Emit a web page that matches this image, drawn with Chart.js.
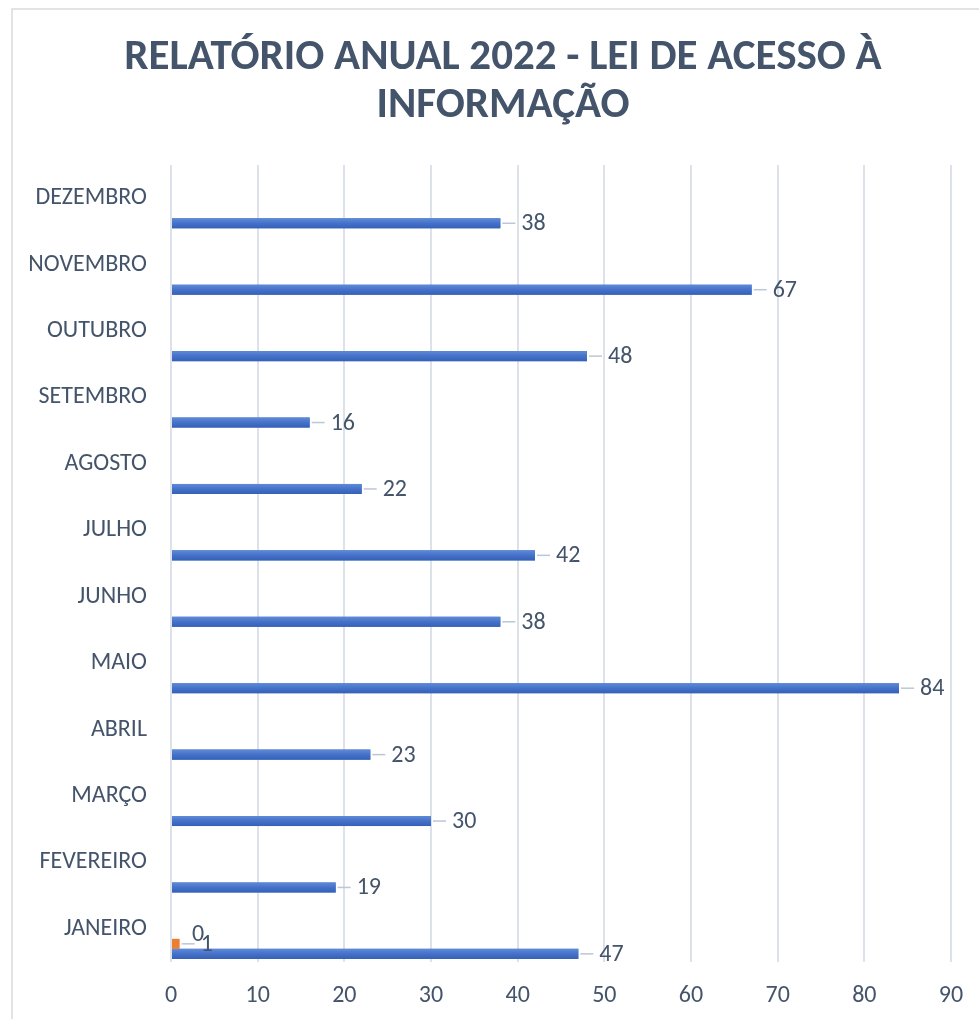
<!DOCTYPE html>
<html>
<head>
<meta charset="utf-8">
<script src="https://cdn.jsdelivr.net/npm/chart.js@4/dist/chart.umd.min.js"></script>
<style>
    html, body { margin: 0; padding: 0; background: #fff; overflow: hidden; }
    #wrap { position: relative; width: 979px; height: 1019px; }
    #frame { position: absolute; left: 11px; top: 8px; width: 1000px; height: 1050px; border: 2px solid #e3e3e3; box-sizing: border-box; }
    canvas { position: absolute; left: 0; top: 0; }
</style>
</head>
<body>
<div id="wrap">
    <div id="frame"></div>
    <canvas id="lai2022" width="979" height="1019"></canvas>
</div>
<script>
// meses (de janeiro a dezembro)
const meses = ['JANEIRO', 'FEVEREIRO', 'MARÇO', 'ABRIL', 'MAIO', 'JUNHO',
               'JULHO', 'AGOSTO', 'SETEMBRO', 'OUTUBRO', 'NOVEMBRO', 'DEZEMBRO'];
// série principal (barras azuis)
const serie1 = [47, 19, 30, 23, 84, 38, 42, 22, 16, 48, 67, 38];
// séries secundárias: só janeiro tem valor
const serie2 = [1, null, null, null, null, null, null, null, null, null, null, null];
const serie3 = [0, null, null, null, null, null, null, null, null, null, null, null];
const serie4 = [null, null, null, null, null, null, null, null, null, null, null, null];
const serie5 = [null, null, null, null, null, null, null, null, null, null, null, null];
const serie6 = [null, null, null, null, null, null, null, null, null, null, null, null];
const eixoX = [0, 10, 20, 30, 40, 50, 60, 70, 80, 90];
const titulo = ['RELATÓRIO ANUAL 2022 - LEI DE ACESSO À', 'INFORMAÇÃO'];

const corTexto = '#44546a';
const fonte = "Carlito, 'Open Sans', sans-serif";

// Excel desenha janeiro embaixo e a série 1 na base de cada faixa
const rev = arr => arr.slice().reverse();

// título centrado no quadro do gráfico (não no canvas)
const tituloPlugin = {
    id: 'tituloPlugin',
    afterDraw(chart) {
        const ctx = chart.ctx;
        ctx.save();
        ctx.font = "bold 43px " + fonte;
        ctx.fillStyle = corTexto;
        ctx.textAlign = 'center';
        ctx.textBaseline = 'middle';
        titulo.forEach((linha, i) => ctx.fillText(linha, 503, 58 + i * 48));
        ctx.restore();
    }
};

// degradê das barras azuis, como no Excel
const degrade = {
    id: 'degrade',
    afterDatasetsDraw(chart) {
        const ctx = chart.ctx;
        chart.data.datasets.forEach((ds, i) => {
            if (ds.label !== 'Série 1') return;
            chart.getDatasetMeta(i).data.forEach(bar => {
                const p = bar.getProps(['x', 'y', 'base', 'height'], true);
                const top = p.y - p.height / 2;
                const g = ctx.createLinearGradient(0, top, 0, top + p.height);
                g.addColorStop(0, '#5f8ad8');
                g.addColorStop(0.5, '#4572c8');
                g.addColorStop(1, '#3560b8');
                ctx.fillStyle = g;
                ctx.fillRect(p.base, top, p.x - p.base, p.height);
            });
        });
    }
};

// rótulos de dados (sem plugin externo)
const rotulos = {
    id: 'rotulos',
    afterDatasetsDraw(chart) {
        const ctx = chart.ctx;
        ctx.save();
        ctx.font = "24px " + fonte;
        ctx.fillStyle = corTexto;
        ctx.textBaseline = 'middle';
        ctx.textAlign = 'left';
        chart.data.datasets.forEach((ds, i) => {
            const meta = chart.getDatasetMeta(i);
            meta.data.forEach((bar, j) => {
                const v = ds.data[j];
                if (v === null || v === undefined) return;
                const x = bar.x + 21;
                ctx.strokeStyle = '#bcc6d6';
                ctx.lineWidth = 1.5;
                if (v > 0) {
                    ctx.beginPath();
                    ctx.moveTo(bar.x + 2, bar.y);
                    ctx.lineTo(x - 6, bar.y);
                    ctx.stroke();
                }
                ctx.fillText(String(v), x, bar.y + 1);
            });
        });
        ctx.restore();
    }
};

const ctx = document.getElementById('lai2022').getContext('2d');
new Chart(ctx, {
    type: 'bar',
    data: {
        labels: rev(meses),
        datasets: [
            { label: 'Série 6', data: rev(serie6), backgroundColor: '#70ad47' },
            { label: 'Série 5', data: rev(serie5), backgroundColor: '#5b9bd5' },
            { label: 'Série 4', data: rev(serie4), backgroundColor: '#ffc000' },
            { label: 'Série 3', data: rev(serie3), backgroundColor: '#a5a5a5' },
            { label: 'Série 2', data: rev(serie2), backgroundColor: '#ed7d31' },
            { label: 'Série 1', data: rev(serie1), backgroundColor: '#4472c4' }
        ]
    },
    options: {
        indexAxis: 'y',
        responsive: false,
        animation: false,
        categoryPercentage: 0.906,
        barPercentage: 1.0,
        layout: { padding: { left: 0, right: 28, top: 165, bottom: 0 } },
        scales: {
            x: {
                min: eixoX[0],
                max: eixoX[eixoX.length - 1],
                afterBuildTicks: axis => { axis.ticks = eixoX.map(v => ({ value: v })); },
                afterFit: axis => { axis.height = 57; },
                grid: { color: '#dde1ea', lineWidth: 2, drawTicks: true, tickLength: 20, tickColor: 'rgba(0,0,0,0)' },
                border: { display: false },
                ticks: { color: corTexto, padding: 0, font: { family: fonte, size: 24 } }
            },
            y: {
                afterFit: axis => { axis.width = 171; },
                grid: { display: false },
                border: { display: false },
                ticks: { color: corTexto, padding: 16, font: { family: fonte, size: 24 } }
            }
        },
        plugins: {
            legend: { display: false },
            tooltip: { enabled: false },
            title: { display: false }
        }
    },
    plugins: [degrade, rotulos, tituloPlugin]
});
</script>
</body>
</html>
